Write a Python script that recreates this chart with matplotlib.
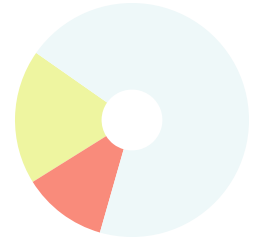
import matplotlib
matplotlib.use("Agg")
import matplotlib.pyplot as plt

categories = ["Yellow", "Red", "Blue"]
values = [18.6, 11.7, 69.7]
colors = ["#eef5a0", "#f98b7b", "#eef8f9"]

fig = plt.figure(figsize=(2.59, 2.40), dpi=100)
ax = fig.add_axes([0, 0, 1, 1])
ax.pie(values, colors=colors, startangle=145, counterclock=True,
       radius=1.0, wedgeprops=dict(width=0.74, linewidth=0))
ax.set_aspect("auto")
ax.set_xlim(-132 / 117, (259 - 132) / 117)
ax.set_ylim(-120 / 117, 120 / 117)
ax.axis("off")
fig.savefig("out.png", dpi=100)
